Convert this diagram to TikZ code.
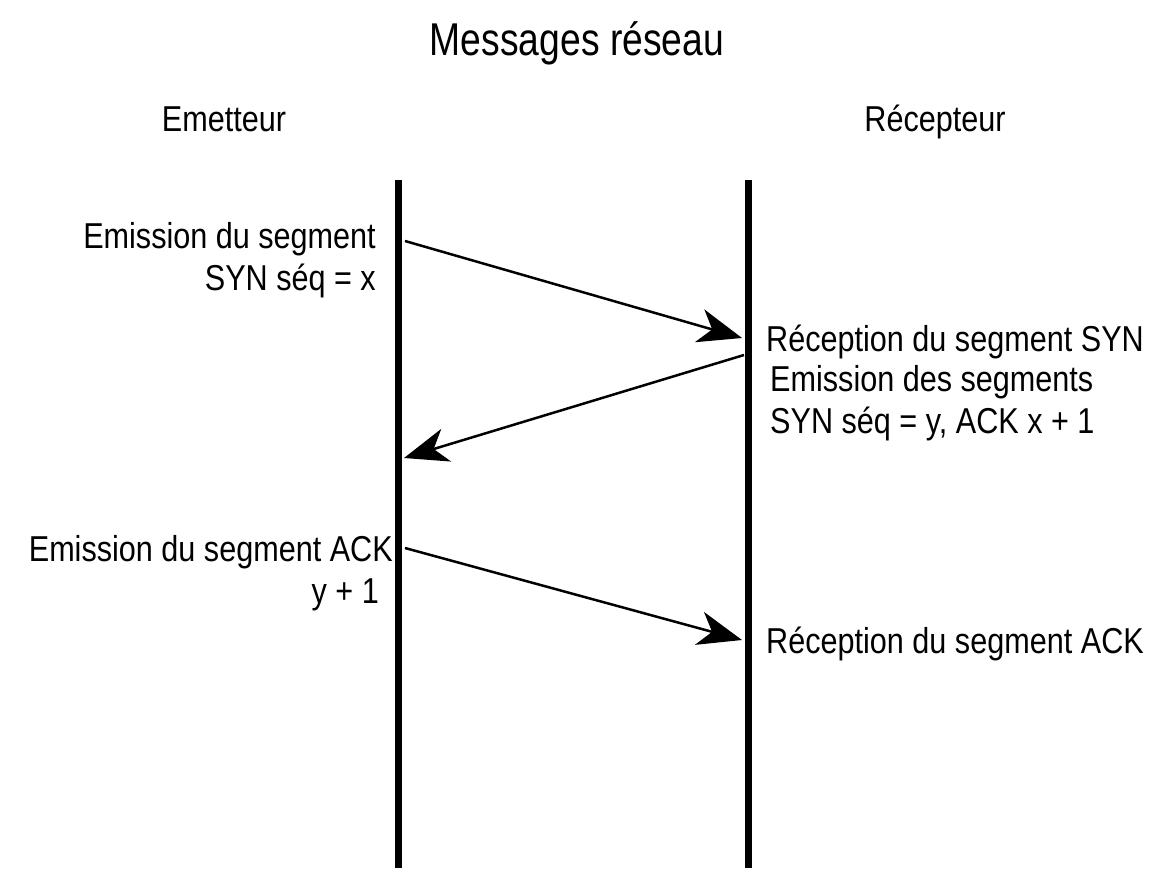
\documentclass[tikz,border=0pt]{standalone}
\usepackage{fontspec}
\setmainfont[FakeStretch=0.85]{Liberation Sans}
\newfontfamily\titlefont[FakeStretch=0.81]{Liberation Sans}
\usetikzlibrary{arrows.meta}

\begin{document}
\begin{tikzpicture}[x=1pt,y=-1pt,
	lifeline/.style={line width=7pt},
	message/.style={line width=2.5pt,-{Stealth[length=44pt,width=34pt,inset=13pt]}},
	legend/.style={inner sep=0pt,font=\fontsize{36}{42}\selectfont},
	titletext/.style={inner sep=0pt,font=\titlefont\fontsize{46}{50}\selectfont}]
	
	\useasboundingbox[fill=white] (0,0) rectangle (1162,883);
	
	% titles
	\node[titletext,anchor=base] (titre) at (577,56) {Messages réseau};
	\node[legend,anchor=base] (emetteur) at (224,131) {Emetteur};
	\node[legend,anchor=base] (recepteur) at (935,131) {Récepteur};
	
	% lifelines
	\coordinate (etop) at (398,180);
	\coordinate (ebot) at (398,868);
	\coordinate (rtop) at (748,180);
	\coordinate (rbot) at (748,868);
	\draw[lifeline] (etop) -- (ebot);
	\draw[lifeline] (rtop) -- (rbot);
	
	% message ends
	\coordinate (syn-out) at (405,241);
	\coordinate (syn-in) at (742,338);
	\coordinate (synack-out) at (744,355);
	\coordinate (synack-in) at (404,458);
	\coordinate (ack-out) at (405,548);
	\coordinate (ack-in) at (742,640);
	
	\draw[message] (syn-out) -- (syn-in);
	\draw[message] (synack-out) -- (synack-in);
	\draw[message] (ack-out) -- (ack-in);
	
	% labels
	\node[legend,align=right,anchor=north east] (emsyn) at (376,222)
		{Emission du segment\\SYN séq = x};
	\node[legend,anchor=base west] (recsyn) at (766,351)
		{Réception du segment SYN};
	\node[legend,align=left,anchor=north west] (emsynack) at (770,365)
		{Emission des segments\\SYN séq = y, ACK x + 1};
	\node[legend,align=right,anchor=north east] (emack) at (393,535)
		{Emission du segment ACK\\y + 1\hspace*{14pt}};
	\node[legend,anchor=base west] (recack) at (766,653)
		{Réception du segment ACK};
\end{tikzpicture}
\end{document}
